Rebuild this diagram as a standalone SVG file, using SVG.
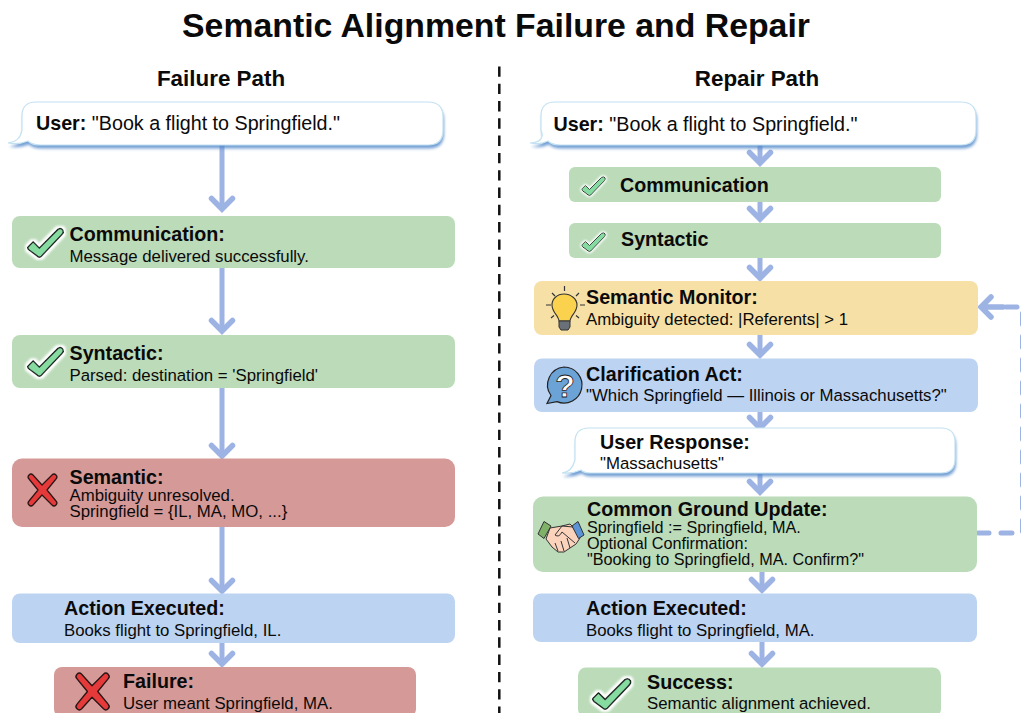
<svg xmlns="http://www.w3.org/2000/svg" width="1021" height="713" viewBox="0 0 1021 713">
<style>
text{font-family:"Liberation Sans",Arial,sans-serif;fill:#0a0a0a}
.h{font-size:19.7px;font-weight:bold}
.b{font-size:16.8px}
.c{font-size:16.2px}
.u{font-size:19.7px}
.ph{font-size:22.4px;font-weight:bold}
.green{fill:#bbdbb9}.red{fill:#d59a98}.blue{fill:#bdd3f2}.yellow{fill:#f6e0a6}
.bub{fill:#fff;stroke:#c4e2f2;stroke-width:1.2}
.shd{fill:#4f86c9;opacity:.8;filter:url(#blur)}
.ln{fill:none;stroke:#9db3e4;stroke-width:5}
.hd{fill:none;stroke:#9db3e4;stroke-width:5.5;stroke-linecap:round;stroke-linejoin:miter}
.fb{fill:none;stroke:#9db3e4;stroke-width:5;stroke-linecap:round}
.chk{fill:#86dca0;stroke:#1f2a24;stroke-width:1.4;stroke-linejoin:round}
.x{fill:#e63a3a;stroke:#2a1414;stroke-width:1.2;stroke-linejoin:round}
.o{stroke:#333;stroke-width:1;stroke-linejoin:round}
</style>
<defs>
<filter id="blur" x="-5%" y="-30%" width="110%" height="160%"><feGaussianBlur stdDeviation="1.6"/></filter>
<filter id="glow" x="-30%" y="-30%" width="160%" height="160%"><feMorphology in="SourceAlpha" operator="dilate" radius="2" result="d"/><feGaussianBlur in="d" stdDeviation="1.2" result="g"/><feFlood flood-color="#fff"/><feComposite in2="g" operator="in"/><feMerge><feMergeNode/><feMergeNode in="SourceGraphic"/></feMerge></filter>
<path id="check" class="chk" filter="url(#glow)" d="M0 13 L5 8 L11 14 L29 -4 Q32 -6 34 -3 Q35 -1 33 1 L13 22 Q11 24 9 22 L1 16 Q-1 14 0 13Z"/>
<path id="cross" class="x" d="M-13 -15 Q-11 -17 -9 -15 L0 -5 L10 -15 Q12 -17 14 -15 Q16 -13 14 -11 L5 0 L14 11 Q16 13 14 15 Q12 17 10 15 L0 5 L-9 15 Q-11 17 -13 15 Q-15 13 -13 11 L-4 0 L-13 -11 Q-15 -13 -13 -15Z"/>
<path id="head" class="hd" d="M-10.5 -10.5 L0 0 L10.5 -10.5"/>
<path id="bubL" d="M8 143 Q20 142 22 130 V116 Q22 102 36 102 H428 Q443 102 443 117 V130 Q443 145 428 145 H40 Q32 145 28 141 Q18 145 8 143Z"/>
<path id="bubR" d="M530 143 Q546 142 541 130 V116 Q541 102 555 102 H961 Q976 102 976 117 V130 Q976 145 961 145 H560 Q552 145 548 141 Q540 145 530 143Z"/>
<path id="bubU" d="M562 473 Q572 472 575 460 V442 Q575 428 589 428 H941 Q955 428 955 442 V459 Q955 473 941 473 H590 Q584 473 581 470 Q572 474 562 473Z"/>
</defs>

<text x="496" y="37" text-anchor="middle" font-size="33.8" font-weight="bold">Semantic Alignment Failure and Repair</text>
<text x="221" y="86" text-anchor="middle" class="ph">Failure Path</text>
<text x="757" y="86" text-anchor="middle" class="ph">Repair Path</text>
<line id="divider" x1="499.3" y1="66.4" x2="499.3" y2="713" stroke="#111" stroke-width="2.5" stroke-dasharray="10.4 6.9"/>

<g id="connectors">
<path class="ln" d="M222 145V208M222 268V330M222 388V455M222 527V590M222 643V663"/>
<use href="#head" x="222" y="209"/><use href="#head" x="222" y="331"/><use href="#head" x="222" y="456"/><use href="#head" x="222" y="591"/><use href="#head" x="222" y="664"/>
<path class="ln" d="M760 145V162M760 202V218M760 258V276M760 335V353M760 412V426M760 474V491M762 572V588M762 642V662"/>
<use href="#head" x="760" y="163"/><use href="#head" x="760" y="219"/><use href="#head" x="760" y="278"/><use href="#head" x="760" y="355"/><use href="#head" x="760" y="428"/><use href="#head" x="760" y="492"/><use href="#head" x="762" y="590"/><use href="#head" x="762" y="664"/>
<path class="fb" d="M978 533H1022.5V307H1006" stroke-dasharray="11 12"/>
<path class="hd" d="M991 297 L981 307 L991 317 M983 307H1003"/>
</g>

<g id="failure-user">
<use href="#bubL" class="shd" transform="translate(1 3.5)"/>
<use href="#bubL" class="bub"/>
<text x="36" y="130" class="u"><tspan font-weight="bold">User:</tspan> "Book a flight to Springfield."</text>
</g>
<g id="failure-communication">
<rect class="green" x="12" y="216" width="443" height="52" rx="8"/>
<use href="#check" transform="translate(28 233.5) scale(1.03)"/>
<text x="69.5" y="241" class="h">Communication:</text>
<text x="69.5" y="262" class="b">Message delivered successfully.</text>
</g>
<g id="failure-syntactic">
<rect class="green" x="12" y="335" width="443" height="53" rx="8"/>
<use href="#check" transform="translate(28 352.5) scale(1.03)"/>
<text x="69.5" y="360" class="h">Syntactic:</text>
<text x="69.5" y="381" class="b">Parsed: destination = 'Springfield'</text>
</g>
<g id="failure-semantic">
<rect class="red" x="12" y="458.5" width="443" height="68.5" rx="10"/>
<use href="#cross" x="42" y="490"/>
<text x="69.5" y="484" class="h">Semantic:</text>
<text x="69.5" y="501" class="b">Ambiguity unresolved.</text>
<text x="69.5" y="517" class="b">Springfield = {IL, MA, MO, ...}</text>
</g>
<g id="failure-action">
<rect class="blue" x="12" y="593.5" width="443" height="49.5" rx="8"/>
<text x="64" y="615" class="h">Action Executed:</text>
<text x="64" y="636" class="b">Books flight to Springfield, IL.</text>
</g>
<g id="failure-result">
<rect class="red" x="54" y="667" width="362" height="50" rx="8"/>
<use href="#cross" transform="translate(92 691.5) scale(1.15)"/>
<text x="123" y="688" class="h">Failure:</text>
<text x="123" y="709" class="b">User meant Springfield, MA.</text>
</g>

<g id="repair-user">
<use href="#bubR" class="shd" transform="translate(1 3.5)"/>
<use href="#bubR" class="bub"/>
<text x="553.5" y="131" class="u"><tspan font-weight="bold">User:</tspan> "Book a flight to Springfield."</text>
</g>
<g id="repair-communication">
<rect class="green" x="569" y="167" width="372" height="35" rx="6"/>
<use href="#check" transform="translate(582 180) scale(.68)"/>
<text x="620" y="192" class="h">Communication</text>
</g>
<g id="repair-syntactic">
<rect class="green" x="569" y="223" width="372" height="35" rx="6"/>
<use href="#check" transform="translate(582 236) scale(.68)"/>
<text x="621" y="246" class="h">Syntactic</text>
</g>
<g id="repair-monitor">
<rect class="yellow" x="534" y="281" width="444" height="54" rx="8"/>
<path d="M564 294c-7 0-12 5-12 11 0 5 3 8 5 11 1 2 2 3 2 5h11c0-2 1-3 2-5 2-3 5-6 5-11 0-6-6-11-13-11z" fill="#fbd24e" stroke="#333" stroke-width="1.1"/>
<path d="M559 321h11v6l-2 3h-7l-2-3z" fill="#6a7078" stroke="#333"/>
<path d="M564.5 286v5M552 293l3 3M579 293l-3 3M546 305h5M580 305h5M551 318l3-2.500M579 318l-3-2.500" stroke="#333" stroke-width="1.2" fill="none"/>
<text x="586" y="304" class="h">Semantic Monitor:</text>
<text x="586" y="325" class="b">Ambiguity detected: |Referents| &gt; 1</text>
</g>
<g id="repair-clarify">
<rect class="blue" x="534" y="358.500" width="444" height="53.500" rx="8"/>
<path d="M564 367a18 18 0 1 1-7 34.600l-10 1.900 4-8a18 18 0 0 1 13-28.500z" fill="#6ba3d6" stroke="#222" stroke-width="1.2"/>
<text x="565" y="396.500" text-anchor="middle" font-size="32" font-weight="bold" style="fill:#fff;stroke:#222;stroke-width:.8">?</text>
<text x="586" y="381" class="h">Clarification Act:</text>
<text x="586" y="401" class="b">"Which Springfield — Illinois or Massachusetts?"</text>
</g>
<g id="repair-response">
<use href="#bubU" class="shd" transform="translate(1 3.5)"/>
<use href="#bubU" class="bub"/>
<text x="600" y="449" class="h">User Response:</text>
<text x="600" y="469" font-size="16.800">"Massachusetts"</text>
</g>
<g id="repair-common">
<rect class="green" x="533" y="496.500" width="444" height="75.500" rx="10"/>
<path class="o" d="M550 528 L562 526 L570 524 L573 527 L580 538 L576 544 L570 548 L564 552 L558 552 L552 547 L546 539Z" fill="#fbd3bc"/>
<path class="o" d="M544 521.500 L551 526 L544 538.500 L538 534Z" fill="#7fb268"/>
<path class="o" d="M578 521.500 L584 535 L578.500 538.500 L572 526Z" fill="#5b94d6"/>
<path class="o" fill="none" d="M573 527 L562 526 L555 535 Q559 538 562 532 L575 543M567 538 L570 548M561 541 L564 551M555 543 L558 551"/>
<text x="587" y="516" class="h">Common Ground Update:</text>
<text x="587" y="533" class="c">Springfield := Springfield, MA.</text>
<text x="587" y="549" class="c">Optional Confirmation:</text>
<text x="587" y="565" class="c">"Booking to Springfield, MA. Confirm?"</text>
</g>
<g id="repair-action">
<rect class="blue" x="533" y="593.500" width="444" height="48.500" rx="8"/>
<text x="586" y="615" class="h">Action Executed:</text>
<text x="586" y="636" class="b">Books flight to Springfield, MA.</text>
</g>
<g id="repair-success">
<rect class="green" x="578" y="667.500" width="363" height="49.500" rx="8"/>
<use href="#check" transform="translate(593 684) scale(1.1)"/>
<text x="647" y="689" class="h">Success:</text>
<text x="647" y="709" class="b">Semantic alignment achieved.</text>
</g>
</svg>
